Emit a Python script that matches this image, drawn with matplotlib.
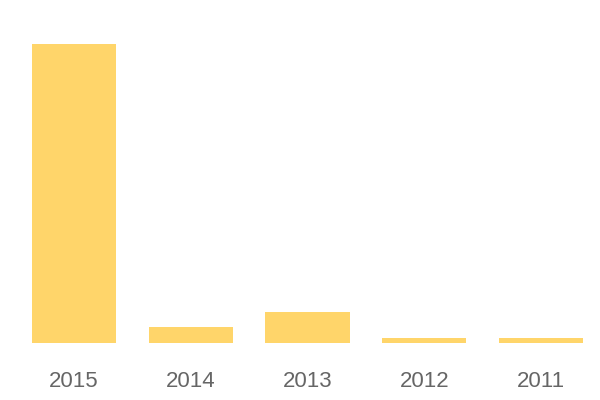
import matplotlib.pyplot as plt

# values (2015 scaled to 100)
years = ['2015', '2014', '2013', '2012', '2011']
values = [100, 5.4, 10.4, 1.6, 1.6]

fig = plt.figure(figsize=(6, 4), dpi=100)
ax = fig.add_axes([0.026, 0.1425, 0.973, 0.7465])

ax.bar(range(len(years)), values, width=0.72, color='#FFD56A')
ax.set_xlim(-0.5, len(years) - 0.5)
ax.set_ylim(0, max(values))

ax.set_xticks(range(len(years)))
ax.set_xticklabels(years, fontsize=16, color='#666666', family='Liberation Sans')
ax.tick_params(axis='x', length=0, pad=20)
ax.set_yticks([])
for s in ax.spines.values():
    s.set_visible(False)

fig.savefig('out.png', dpi=100)
